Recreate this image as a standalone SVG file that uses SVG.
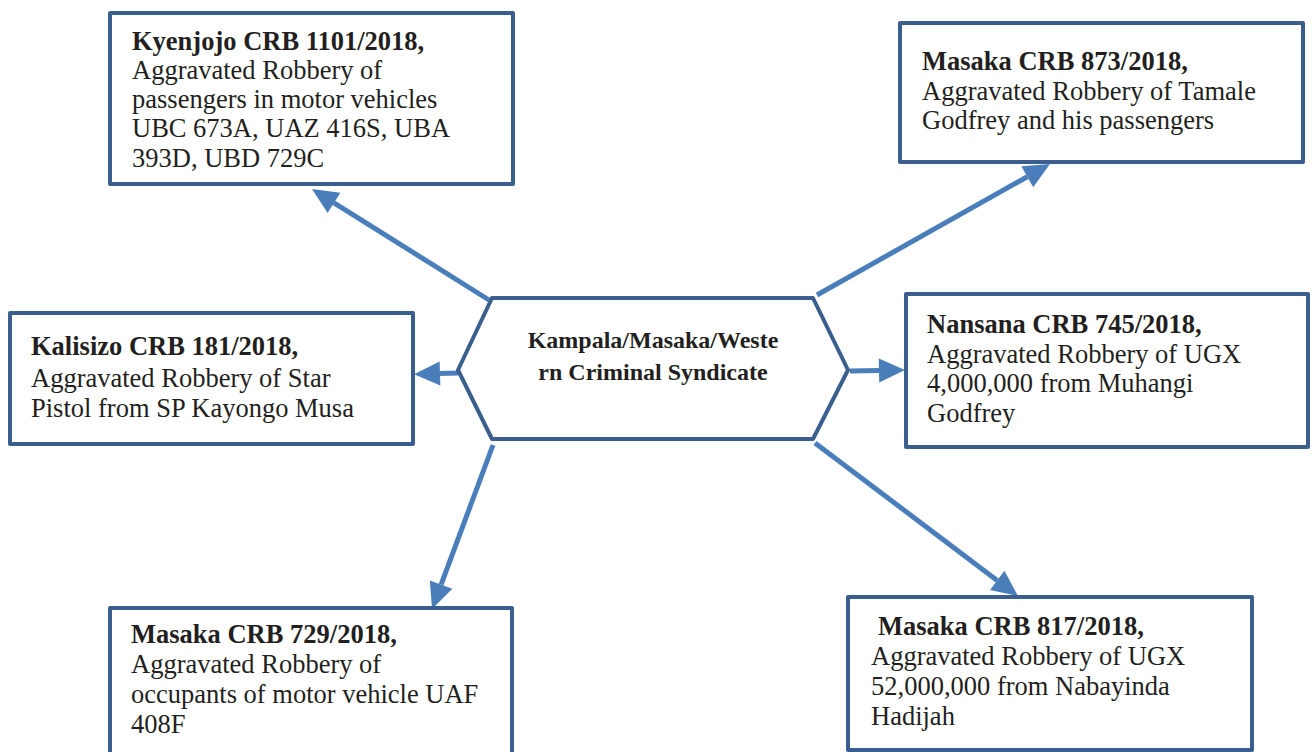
<svg xmlns="http://www.w3.org/2000/svg" width="1312" height="752" viewBox="0 0 1312 752">
<style>
.box{fill:#fff;stroke:#3a5f8e;stroke-width:4;stroke-linejoin:round}
.t{font-family:"Liberation Serif","Times New Roman",serif;font-size:26.5px;fill:#231f20}
.b{font-weight:bold}
.hex{font-family:"Liberation Serif","Times New Roman",serif;font-size:24px;font-weight:bold;fill:#231f20}
.c{stroke:#4a7ebb;stroke-width:5;fill:none;marker-end:url(#ah)}
</style>
<defs>
<marker id="ah" markerUnits="userSpaceOnUse" markerWidth="26" markerHeight="24" refX="0" refY="12" orient="auto" overflow="visible">
<path d="M0,0 L26,12 L0,24 z" fill="#4a7ebb"/>
</marker>
</defs>
<rect width="1312" height="752" fill="#fff"/>
<g id="connectors">
<line class="c" x1="489" y1="300" x2="334" y2="202.8"/>
<line class="c" x1="817" y1="295" x2="1027.3" y2="176.7"/>
<line class="c" x1="458" y1="373" x2="440" y2="373.5"/>
<line class="c" x1="850" y1="371" x2="879" y2="370.5"/>
<line class="c" x1="493" y1="445" x2="441.1" y2="584.6"/>
<line class="c" x1="815" y1="443" x2="997.2" y2="580.4"/>
</g>
<g id="center">
<polygon class="box" points="458,370 492,298 813,298 848,370 813,439 492,439"/>
<text class="hex" text-anchor="middle"><tspan x="653" y="348">Kampala/Masaka/Weste</tspan><tspan x="653" y="380">rn Criminal Syndicate</tspan></text>
</g>
<g id="kyenjojo">
<rect class="box" x="110" y="13" width="403" height="171"/>
<text class="t"><tspan class="b" x="132" y="50">Kyenjojo CRB 1101/2018,</tspan><tspan x="132" y="79">Aggravated Robbery of</tspan><tspan x="132" y="108">passengers in motor vehicles</tspan><tspan x="132" y="137">UBC 673A, UAZ 416S, UBA</tspan><tspan x="132" y="167">393D, UBD 729C</tspan></text>
</g>
<g id="masaka873">
<rect class="box" x="900" y="23" width="403" height="139"/>
<text class="t"><tspan class="b" x="922" y="70">Masaka CRB 873/2018,</tspan><tspan x="922" y="100">Aggravated Robbery of Tamale</tspan><tspan x="922" y="129">Godfrey and his passengers</tspan></text>
</g>
<g id="kalisizo">
<rect class="box" x="10" y="313" width="403" height="131"/>
<text class="t"><tspan class="b" x="31" y="355">Kalisizo CRB 181/2018,</tspan><tspan x="31" y="387">Aggravated Robbery of Star</tspan><tspan x="31" y="417">Pistol from SP Kayongo Musa</tspan></text>
</g>
<g id="nansana">
<rect class="box" x="906" y="294" width="402" height="153"/>
<text class="t"><tspan class="b" x="927" y="333">Nansana CRB 745/2018,</tspan><tspan x="927" y="363">Aggravated Robbery of UGX</tspan><tspan x="927" y="392">4,000,000 from Muhangi</tspan><tspan x="927" y="422">Godfrey</tspan></text>
</g>
<g id="masaka729">
<rect class="box" x="110" y="608" width="402" height="160"/>
<text class="t"><tspan class="b" x="131" y="643">Masaka CRB 729/2018,</tspan><tspan x="131" y="673">Aggravated Robbery of</tspan><tspan x="131" y="703">occupants of motor vehicle UAF</tspan><tspan x="131" y="733">408F</tspan></text>
</g>
<g id="masaka817">
<rect class="box" x="848" y="597" width="404" height="153"/>
<text class="t"><tspan class="b" x="878" y="635">Masaka CRB 817/2018,</tspan><tspan x="871" y="665">Aggravated Robbery of UGX</tspan><tspan x="871" y="695">52,000,000 from Nabayinda</tspan><tspan x="871" y="725">Hadijah</tspan></text>
</g>
</svg>
